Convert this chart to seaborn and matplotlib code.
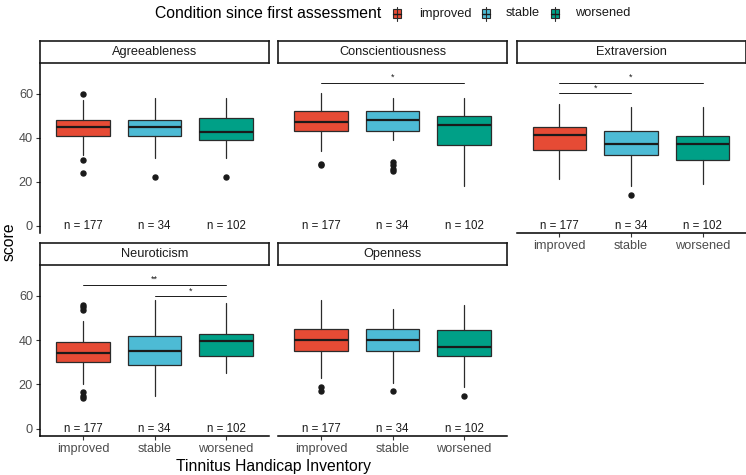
import matplotlib
matplotlib.use("Agg")
import matplotlib.pyplot as plt
import seaborn as sns
from matplotlib.patches import Rectangle
from matplotlib.lines import Line2D

sns.set_theme(style="white")
plt.rcParams['font.family'] = ['Liberation Sans', 'DejaVu Sans']

# ---------------- data ----------------
conditions = ["improved", "stable", "worsened"]
counts = [177, 34, 102]
palette = ["#E64B35", "#4DBBD5", "#00A087"]
traits = ["Agreeableness", "Conscientiousness", "Extraversion", "Neuroticism", "Openness"]
y_ticks = [0, 20, 40, 60]

# per trait: [improved, stable, worsened]
agree_q1 = [41, 41, 39]
agree_med = [45, 45, 42.5]
agree_q3 = [48, 48, 49]
agree_lo = [32, 31, 31]
agree_hi = [57, 58, 58]
agree_out = [[60, 30, 24], [22], [22]]

consc_q1 = [43, 43, 36.5]
consc_med = [47.3, 48, 46]
consc_q3 = [52.3, 52, 50]
consc_lo = [34, 39, 18]
consc_hi = [60.5, 58.3, 58.3]
consc_out = [[28, 27.5], [29, 27.5, 26, 25], []]

extra_q1 = [34.5, 32, 30]
extra_med = [41.4, 37.3, 37.3]
extra_q3 = [45, 43.2, 41]
extra_lo = [21.4, 18, 19]
extra_hi = [55.3, 54.2, 54.2]
extra_out = [[], [14], []]

neuro_q1 = [30, 29, 33]
neuro_med = [34, 35, 39.5]
neuro_q3 = [39, 42, 43]
neuro_lo = [20, 15, 25]
neuro_hi = [48.7, 58, 57]
neuro_out = [[56, 55, 53.5, 16.5, 15, 14], [], []]

open_q1 = [35, 35, 33]
open_med = [40, 40, 37]
open_q3 = [45, 45, 44.7]
open_lo = [23, 20.5, 19]
open_hi = [58, 54, 56]
open_out = [[19, 17], [17], [15]]

summaries = {
    "Agreeableness": (agree_q1, agree_med, agree_q3, agree_lo, agree_hi, agree_out),
    "Conscientiousness": (consc_q1, consc_med, consc_q3, consc_lo, consc_hi, consc_out),
    "Extraversion": (extra_q1, extra_med, extra_q3, extra_lo, extra_hi, extra_out),
    "Neuroticism": (neuro_q1, neuro_med, neuro_q3, neuro_lo, neuro_hi, neuro_out),
    "Openness": (open_q1, open_med, open_q3, open_lo, open_hi, open_out),
}

# significance brackets: (group a, group b, y value, label)
signif = {
    "Conscientiousness": [(0, 2, 65, "*")],
    "Extraversion": [(0, 2, 65, "*"), (0, 1, 60.3, "*")],
    "Neuroticism": [(0, 2, 65, "**"), (1, 2, 60, "*")],
}

# ---------------- layout ----------------
W, H = 746, 475
fig = plt.figure(figsize=(W / 100, H / 100), dpi=100)
fig.patch.set_facecolor("white")

def fr(x0, y0, x1, y1):
    """pixel box (top-left origin) -> figure fraction rect"""
    return [x0 / W, 1 - y1 / H, (x1 - x0) / W, (y1 - y0) / H]

col_x = [(40, 269), (278, 507), (516.5, 745.5)]
row_plot = [(63, 233), (265, 436)]
row_strip = [(40.5, 63), (242.5, 265)]
positions = {
    "Agreeableness": (0, 0), "Conscientiousness": (0, 1), "Extraversion": (0, 2),
    "Neuroticism": (1, 0), "Openness": (1, 1),
}
bottom_panels = {"Extraversion", "Neuroticism", "Openness"}

edge = "#2b2b2b"
tick_col = "#4D4D4D"

for trait in traits:
    r, c = positions[trait]
    x0, x1 = col_x[c]
    y0, y1 = row_plot[r]
    ax = fig.add_axes(fr(x0, y0, x1, y1))
    q1, med, q3, lo, hi, out = summaries[trait]
    stats = []
    for i in range(3):
        stats.append(dict(q1=q1[i], med=med[i], q3=q3[i], whislo=lo[i], whishi=hi[i],
                          fliers=out[i], label=conditions[i]))
    bp = ax.bxp(stats, positions=[1, 2, 3], widths=0.75, patch_artist=True,
                showcaps=False,
                boxprops=dict(edgecolor=edge, linewidth=0.9),
                medianprops=dict(color="#1a1a1a", linewidth=1.6),
                whiskerprops=dict(color=edge, linewidth=0.9),
                flierprops=dict(marker="o", markerfacecolor="#1a1a1a",
                                markeredgecolor="#1a1a1a", markersize=3.6))
    for patch, col in zip(bp["boxes"], palette):
        patch.set_facecolor(col)
    for i, n in enumerate(counts):
        ax.text(i + 1, 0, f"n = {n}", ha="center", va="center", fontsize=8.3, color="#1a1a1a")
    for a, b, yv, lab in signif.get(trait, []):
        ax.plot([a + 1, b + 1], [yv, yv], color="#1a1a1a", lw=0.7)
        ax.annotate(lab, xy=((a + b) / 2 + 1, yv), xytext=(0, 0.5), textcoords="offset points",
                    ha="center", va="bottom", fontsize=6.5, color="#1a1a1a")
    ax.set_xlim(0.4, 3.6)
    ax.set_ylim(-3.3, 74)
    ax.set_facecolor("white")
    for s in ax.spines.values():
        s.set_visible(False)
    if c == 0:
        ax.spines["left"].set_visible(True)
        ax.spines["left"].set_color("black")
        ax.spines["left"].set_linewidth(1.1)
        ax.set_yticks(y_ticks)
        ax.set_yticklabels([str(t) for t in y_ticks])
        ax.tick_params(axis="y", left=True, length=3, width=0.8, color="#333333",
                       labelsize=9.2, labelcolor=tick_col, pad=2)
    else:
        ax.set_yticks([])
    if trait in bottom_panels:
        ax.spines["bottom"].set_visible(True)
        ax.spines["bottom"].set_color("black")
        ax.spines["bottom"].set_linewidth(1.1)
        ax.set_xticks([1, 2, 3])
        ax.set_xticklabels(conditions)
        ax.tick_params(axis="x", bottom=True, length=3, width=0.8, color="#333333",
                       labelsize=9.2, labelcolor=tick_col, pad=2)
    else:
        ax.set_xticks([])
    ax.grid(False)

    # strip
    s0, s1 = row_strip[r]
    sax = fig.add_axes(fr(x0, s0, x1, s1))
    sax.set_xticks([]); sax.set_yticks([])
    sax.set_facecolor("white")
    for s in sax.spines.values():
        s.set_visible(True)
        s.set_color("#1a1a1a")
        s.set_linewidth(1.2)
    sax.text(0.5, 0.5, trait, ha="center", va="center", fontsize=9.2, color="#1a1a1a",
             transform=sax.transAxes)

# axis titles
fig.text(0.5 * (40 + 507) / W, 1 - 466 / H, "Tinnitus Handicap Inventory",
         ha="center", va="center", fontsize=11.3, color="black")
fig.text(9 / W, 1 - 242 / H, "score", ha="center", va="center", rotation=90,
         fontsize=11.3, color="black")

# legend
ly = 13.5
fig.text(155 / W, 1 - ly / H, "Condition since first assessment", ha="left", va="center",
         fontsize=11.3, color="black")
key_x = [393, 482, 551]
lab_x = [419, 506, 575]
for kx, lx, col, lab in zip(key_x, lab_x, palette, conditions):
    cx = kx + 4
    fig.add_artist(Line2D([cx / W, cx / W], [1 - 6.5 / H, 1 - 20.5 / H], color=edge, lw=0.8,
                          transform=fig.transFigure))
    fig.add_artist(Rectangle((kx / W, 1 - 18 / H), 8 / W, 9 / H, facecolor=col,
                             edgecolor=edge, lw=0.8, transform=fig.transFigure))
    fig.add_artist(Line2D([kx / W, (kx + 8) / W], [1 - ly / H, 1 - ly / H], color="#1a1a1a",
                          lw=1.0, transform=fig.transFigure))
    fig.text(lx / W, 1 - ly / H, lab, ha="left", va="center", fontsize=9.2, color="#1a1a1a")

fig.savefig("out.png", dpi=100, facecolor="white")
